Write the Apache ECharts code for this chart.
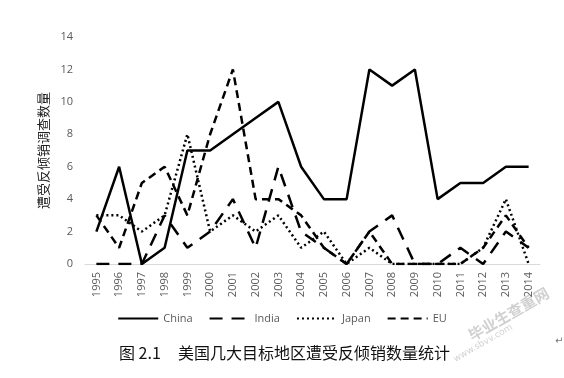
<!DOCTYPE html>
<html>
<head>
<meta charset="utf-8">
<script src="https://cdn.jsdelivr.net/npm/echarts@6/dist/echarts.min.js"></script>
<style>
  html, body { margin: 0; padding: 0; background: #fff; }
  #chart { width: 564px; height: 378px; }
</style>
</head>
<body>
<div id="chart"></div>
<script>
// 年份 + 四个地区的反倾销调查数量
const years = ['1995', '1996', '1997', '1998', '1999', '2000', '2001', '2002', '2003', '2004',
  '2005', '2006', '2007', '2008', '2009', '2010', '2011', '2012', '2013', '2014'];
const china = [2, 6, 0, 1, 7, 7, 8, 9, 10, 6, 4, 4, 12, 11, 12, 4, 5, 5, 6, 6];
const india = [0, 0, 0, 3, 1, 2, 4, 1, 6, 2, 1, 0, 2, 3, 0, 0, 1, 0, 2, 1];
const japan = [3, 3, 2, 3, 8, 2, 3, 2, 3, 1, 2, 0, 1, 0, 0, 0, 0, 1, 4, 0];
const eu = [3, 1, 5, 6, 3, 8, 12, 4, 4, 3, 1, 0, 2, 0, 0, 0, 0, 1, 3, 1];

const yName = '遭受反倾销调查数量';
const figNo = '图 2.1';
const caption = '美国几大目标地区遭受反倾销数量统计';

const SERIES = [
  { name: 'China', data: china, type: 'solid' },
  { name: 'India', data: india, type: [13, 9] },
  { name: 'Japan', data: japan, type: [2, 3] },
  { name: 'EU', data: eu, type: [8, 5] },
];

const chart = echarts.init(document.getElementById('chart'));
const labelColor = '#595959';

chart.setOption({
  animation: false,
  textStyle: { fontFamily: 'Open Sans, Noto Sans CJK SC, sans-serif' },
  grid: { left: 85, right: 24, top: 37, bottom: 114, containLabel: false },
  legend: {
    bottom: 49,
    left: 'center',
    itemWidth: 40,
    itemHeight: 12,
    itemGap: 16,
    itemStyle: { opacity: 0 },
    textStyle: { color: labelColor, fontSize: 11 },
    data: SERIES.map((s) => s.name),
  },
  xAxis: {
    type: 'category',
    data: years,
    boundaryGap: true,
    axisLine: { lineStyle: { color: '#d9d9d9', width: 1 } },
    axisTick: { show: false },
    axisLabel: { color: labelColor, fontSize: 11, rotate: 90, margin: 8 },
  },
  yAxis: {
    type: 'value',
    min: 0,
    max: 14,
    interval: 2,
    name: yName,
    nameLocation: 'middle',
    nameRotate: 90,
    nameGap: 27,
    nameTextStyle: { color: '#222', fontSize: 13, fontFamily: 'Noto Sans CJK SC' },
    axisLine: { show: false },
    axisTick: { show: false },
    splitLine: { show: false },
    axisLabel: { color: labelColor, fontSize: 11, margin: 12 },
  },
  series: SERIES.map((s) => ({
    name: s.name,
    type: 'line',
    data: s.data,
    symbol: 'none',
    lineStyle: { color: '#000', width: 2.5, type: s.type },
    itemStyle: { color: '#000' },
  })),
  graphic: [
    {
      type: 'text',
      left: 119,
      top: 345,
      style: { text: figNo, font: '16px "Noto Sans CJK SC"', fill: '#111' },
    },
    {
      type: 'text',
      left: 178,
      top: 345,
      style: { text: caption, font: '16px "Noto Sans CJK SC"', fill: '#111' },
    },
    {
      type: 'text',
      x: 555,
      y: 336,
      style: { text: '↵', font: '10px "DejaVu Sans"', fill: '#777' },
    },
    {
      type: 'text',
      x: 466,
      y: 330,
      rotation: Math.PI / 6,
      style: { text: '毕业生查重网', font: 'bold 15px "Noto Sans CJK SC"', fill: 'rgba(120,120,120,0.35)' },
    },
    {
      type: 'text',
      x: 452,
      y: 356,
      rotation: Math.PI / 6,
      style: { text: 'www.sbvv.com', font: '9px "DejaVu Sans"', fill: 'rgba(120,120,120,0.35)' },
    },
  ],
});
</script>
</body>
</html>
